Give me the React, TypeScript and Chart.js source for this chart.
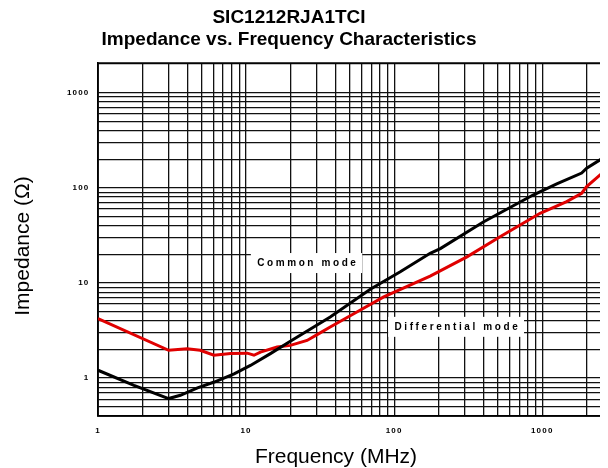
import React, { useEffect, useRef } from 'react';
import { Chart, registerables } from 'chart.js';

Chart.register(...registerables);

const TITLE_LINES = ['SIC1212RJA1TCI', 'Impedance vs. Frequency Characteristics'];
const X_TITLE = 'Frequency (MHz)';
const Y_TITLE = 'Impedance (\u03A9)';

// Common mode (black)
const commonFreq = [1, 1.75, 3.0, 3.6, 4.7, 6.1, 8.3, 10.7, 14.6, 19.9, 37, 69, 110, 175, 205, 400, 867, 1253, 1846, 1995, 2780];
const commonZ = [1.21, 0.84, 0.61, 0.66, 0.79, 0.91, 1.11, 1.36, 1.81, 2.44, 4.39, 8.6, 13.1, 20.5, 23.0, 43.7, 84, 110, 143, 161, 222];

// Differential mode (red)
const diffFreq = [1, 3.0, 4.0, 4.9, 6.06, 7.85, 10.2, 11.3, 12.5, 16.2, 19.9, 25.8, 30.8, 37, 56, 85, 175, 310, 519, 967, 1462, 1846, 1995, 2780];
const diffZ = [4.23, 1.96, 2.04, 1.96, 1.74, 1.81, 1.83, 1.74, 1.88, 2.12, 2.21, 2.49, 2.92, 3.45, 4.96, 7.14, 11.8, 18.8, 30.6, 54, 71.6, 87.7, 103, 161];

// Grid line values and labelled ticks
const xGrid = [1, 2, 3, 4, 5, 6, 7, 8, 9, 10, 20, 30, 40, 50, 60, 70, 80, 90, 100, 200, 300, 400, 500, 600, 700, 800, 900, 1000, 2000];
const yGrid = [0.4, 0.5, 0.6, 0.7, 0.8, 0.9, 1, 2, 3, 4, 5, 6, 7, 8, 9, 10, 20, 30, 40, 50, 60, 70, 80, 90, 100, 200, 300, 400, 500, 600, 700, 800, 900, 1000, 2000];
const xLabels = [1, 10, 100, 1000];
const yLabels = [1, 10, 100, 1000];

// Curve labels (anchored in data units)
const noteTexts = ['Common mode', 'Differential mode'];
const noteFreq = [25.6, 262];
const noteZ = [16.2, 3.46];

const FONT = '"Liberation Sans", Arial, sans-serif';

export default function App() {
  const ref = useRef<HTMLCanvasElement | null>(null);

  useEffect(() => {
    if (!ref.current) return;

    const framePlugin = {
      id: 'frame',
      beforeDraw(chart: any) {
        chart.ctx.letterSpacing = '1.2px';
      },
      beforeDatasetsDraw(chart: any) {
        const { ctx, chartArea: a } = chart;
        ctx.save();
        ctx.strokeStyle = '#000';
        ctx.lineWidth = 1.5;
        ctx.strokeRect(a.left, a.top, a.right - a.left, a.bottom - a.top);
        ctx.restore();
      },
    };

    const notePlugin = {
      id: 'notes',
      beforeDatasetsDraw(chart: any) {
        const { ctx } = chart;
        const x = chart.scales.x;
        const y = chart.scales.y;
        ctx.save();
        ctx.font = 'bold 10px ' + FONT;
        ctx.letterSpacing = '2.6px';
        ctx.textAlign = 'center';
        ctx.textBaseline = 'middle';
        noteTexts.forEach((t, i) => {
          const cx = x.getPixelForValue(noteFreq[i]);
          const cy = y.getPixelForValue(noteZ[i]);
          const w = ctx.measureText(t).width + 10;
          const h = 20;
          ctx.fillStyle = '#fff';
          ctx.fillRect(cx - w / 2, cy - h / 2, w, h);
          ctx.fillStyle = '#000';
          ctx.fillText(t, cx + 1.3, cy);
        });
        ctx.restore();
      },
    };

    const textPlugin = {
      id: 'texts',
      afterDraw(chart: any) {
        const { ctx } = chart;
        ctx.save();
        ctx.letterSpacing = '0px';
        ctx.fillStyle = '#000';
        ctx.textAlign = 'center';
        ctx.textBaseline = 'alphabetic';
        ctx.font = 'bold 19px ' + FONT;
        ctx.fillText(TITLE_LINES[0], 281, 15);
        ctx.fillText(TITLE_LINES[1], 281, 37);
        ctx.font = '21px ' + FONT;
        ctx.fillText(X_TITLE, 328, 455);
        ctx.translate(21, 238);
        ctx.rotate(-Math.PI / 2);
        ctx.fillText(Y_TITLE, 0, 0);
        ctx.restore();
      },
    };

    const chart = new Chart(ref.current, {
      type: 'line',
      data: {
        datasets: [
          {
            label: 'Common mode',
            data: commonFreq.map((f, i) => ({ x: f, y: commonZ[i] })),
            borderColor: '#000000',
            borderWidth: 3,
            pointRadius: 0,
            tension: 0,
            fill: false,
          },
          {
            label: 'Differential mode',
            data: diffFreq.map((f, i) => ({ x: f, y: diffZ[i] })),
            borderColor: '#e00000',
            borderWidth: 3,
            pointRadius: 0,
            tension: 0,
            fill: false,
          },
        ],
      },
      options: {
        animation: false,
        responsive: true,
        maintainAspectRatio: false,
        layout: { padding: { top: 55, right: 0, bottom: 0, left: 0 } },
        plugins: {
          legend: { display: false },
          title: { display: false },
          tooltip: { enabled: false },
        },
        scales: {
          x: {
            type: 'logarithmic',
            min: 1,
            max: 2780,
            afterBuildTicks: (scale: any) => {
              scale.ticks = xGrid.map((v) => ({ value: v }));
            },
            afterFit: (scale: any) => {
              scale.height = 52;
            },
            grid: { color: '#111', lineWidth: 1.3, drawTicks: false },
            border: { display: true, color: '#000', width: 1.5 },
            ticks: {
              autoSkip: false,
              maxRotation: 0,
              minRotation: 0,
              padding: 10,
              color: '#000',
              font: { family: FONT, size: 8, weight: 'bold' },
              callback: (v: any) => (xLabels.includes(Number(v)) ? String(v) : ''),
            },
          },
          y: {
            type: 'logarithmic',
            min: 0.4,
            max: 2050,
            afterBuildTicks: (scale: any) => {
              scale.ticks = yGrid.map((v) => ({ value: v }));
            },
            afterFit: (scale: any) => {
              scale.width = 90;
            },
            grid: { color: '#111', lineWidth: 1.3, drawTicks: false },
            border: { display: true, color: '#000', width: 1.5 },
            ticks: {
              autoSkip: false,
              padding: 8.5,
              color: '#000',
              font: { family: FONT, size: 8, weight: 'bold' },
              callback: (v: any) => (yLabels.includes(Number(v)) ? String(v) : ''),
            },
          },
        },
      },
      plugins: [framePlugin, notePlugin, textPlugin],
    });

    return () => chart.destroy();
  }, []);

  return (
    <div style={{ width: 600, height: 460, position: 'relative' }}>
      <canvas ref={ref} />
    </div>
  );
}
